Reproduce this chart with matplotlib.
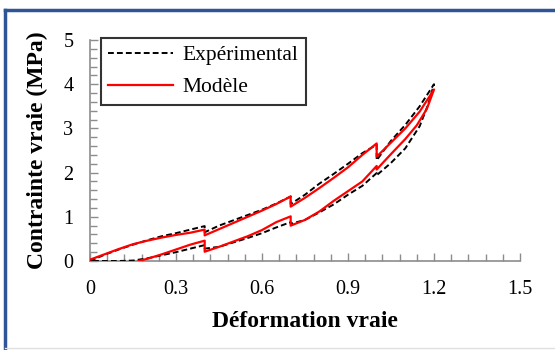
import matplotlib
matplotlib.use("Agg")
import matplotlib.pyplot as plt
from matplotlib.lines import Line2D

# Experimental curve (loading with relaxation steps, then unloading)
exp_strain = [0.00, 0.05, 0.10, 0.15, 0.20, 0.25, 0.30, 0.35, 0.40, 0.40,
              0.45, 0.50, 0.55, 0.60, 0.65, 0.70, 0.70,
              0.75, 0.80, 0.85, 0.90, 0.95, 1.00, 1.00,
              1.035, 1.05, 1.10, 1.15, 1.20,
              1.18, 1.15, 1.10, 1.05, 1.00, 1.00,
              0.95, 0.90, 0.85, 0.80, 0.75, 0.70, 0.70,
              0.65, 0.60, 0.55, 0.50, 0.45, 0.40, 0.40,
              0.35, 0.30, 0.25, 0.20, 0.15, 0.10, 0.05, 0.00]
exp_stress = [0.00, 0.14, 0.26, 0.37, 0.47, 0.56, 0.63, 0.71, 0.79, 0.65,
              0.80, 0.92, 1.04, 1.16, 1.30, 1.46, 1.29,
              1.50, 1.75, 1.97, 2.20, 2.44, 2.63, 2.28,
              2.59, 2.72, 3.08, 3.50, 4.00,
              3.55, 3.05, 2.55, 2.22, 1.94, 1.99,
              1.70, 1.50, 1.28, 1.10, 0.93, 0.84, 0.88,
              0.76, 0.63, 0.52, 0.42, 0.32, 0.28, 0.36,
              0.28, 0.20, 0.13, 0.06, 0.01, 0.00, 0.00, 0.00]

# Model curve
mod_strain = [0.00, 0.05, 0.10, 0.15, 0.20, 0.25, 0.30, 0.35, 0.40, 0.40,
              0.45, 0.50, 0.55, 0.60, 0.65, 0.70, 0.70,
              0.75, 0.80, 0.85, 0.90, 0.95, 1.00, 1.00,
              1.05, 1.10, 1.15, 1.20,
              1.175, 1.14, 1.10, 1.05, 1.00, 1.00,
              0.95, 0.90, 0.85, 0.80, 0.75, 0.70, 0.70,
              0.65, 0.60, 0.55, 0.50, 0.45, 0.40, 0.40,
              0.35, 0.30, 0.25, 0.20, 0.17]
mod_stress = [0.03, 0.15, 0.27, 0.38, 0.46, 0.53, 0.59, 0.64, 0.71, 0.58,
              0.72, 0.86, 1.00, 1.14, 1.29, 1.46, 1.23,
              1.43, 1.65, 1.88, 2.12, 2.40, 2.66, 2.36,
              2.68, 3.00, 3.38, 3.88,
              3.44, 3.07, 2.76, 2.42, 2.07, 2.15,
              1.80, 1.58, 1.36, 1.12, 0.93, 0.80, 1.01,
              0.88, 0.70, 0.56, 0.44, 0.32, 0.21, 0.46,
              0.37, 0.26, 0.15, 0.05, 0.00]

x_ticks = [0, 0.3, 0.6, 0.9, 1.2, 1.5]
x_ticklabels = ["0", "0.3", "0.6", "0.9", "1.2", "1.5"]
y_ticks = [0, 1, 2, 3, 4, 5]
xlabel = "Déformation vraie"
ylabel = "Contrainte vraie (MPa)"
legend_labels = ["Expérimental", "Modèle"]

serif = ["Liberation Serif", "DejaVu Serif"]

fig = plt.figure(figsize=(5.55, 3.5), dpi=100)
ax = fig.add_axes([90 / 555, 1 - 261 / 350, (520 - 90) / 555, (261 - 40) / 350])

ax.plot(exp_strain, exp_stress, color="black", lw=1.4, ls=(0, (3, 1.6)), label=legend_labels[0], zorder=3)
ax.plot(mod_strain, mod_stress, color="#ff0000", lw=1.6, label=legend_labels[1], zorder=4)

ax.set_xlim(0, 1.5)
ax.set_ylim(0, 5)
ax.set_xticks(x_ticks)
ax.set_xticklabels(x_ticklabels)
ax.set_yticks(y_ticks)
ax.set_xticks([i * 0.06 for i in range(26)], minor=True)
ax.set_yticks([i * 0.2 for i in range(26)], minor=True)

for s in ["top", "right"]:
    ax.spines[s].set_visible(False)
for s in ["left", "bottom"]:
    ax.spines[s].set_color("#8c8c8c")
    ax.spines[s].set_linewidth(1.2)

ax.tick_params(which="both", direction="in", color="#8c8c8c", width=1.0)
ax.tick_params(which="major", length=6, labelsize=14.5)
ax.tick_params(axis="x", which="major", pad=14)
ax.tick_params(axis="y", which="major", pad=12)
ax.tick_params(which="minor", length=5)
for lab in ax.get_xticklabels() + ax.get_yticklabels():
    lab.set_family(serif)

ax.set_xlabel(xlabel, fontsize=17, fontweight="bold", family=serif, labelpad=8)
ax.set_ylabel(ylabel, fontsize=17, fontweight="bold", family=serif, labelpad=11)

leg = ax.legend(loc="upper left", bbox_to_anchor=(0.025, 1.01), frameon=True, fancybox=False,
                edgecolor="black", prop={"family": serif, "size": 15.5}, handlelength=3.0,
                handletextpad=0.45, borderpad=0.35, labelspacing=0.55, borderaxespad=0)
leg.get_frame().set_linewidth(1.5)

# figure border
fig.add_artist(Line2D([5 / 555, 5 / 555], [0, 1 - 10 / 350], transform=fig.transFigure,
                      color="#2f5597", lw=2.5))
fig.add_artist(Line2D([5 / 555, 1], [1 - 10 / 350, 1 - 10 / 350], transform=fig.transFigure,
                      color="#2f5597", lw=2.5))
fig.add_artist(Line2D([5 / 555, 1], [2 / 350, 2 / 350], transform=fig.transFigure,
                      color="#e0e0e0", lw=1))

fig.savefig("out.png", dpi=100)
